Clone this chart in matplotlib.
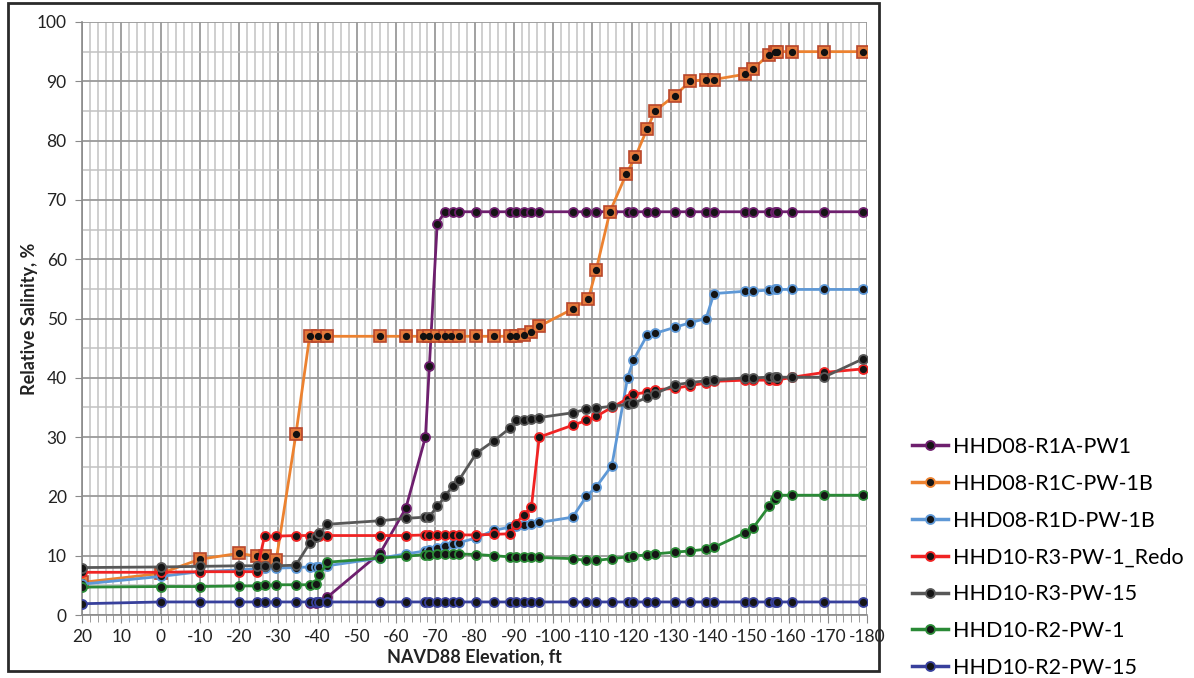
import matplotlib
matplotlib.use("Agg")
import matplotlib.pyplot as plt
from matplotlib.lines import Line2D
from matplotlib.patches import Rectangle
from matplotlib.ticker import MultipleLocator

plt.rcParams["font.family"] = ["Lato", "DejaVu Sans"]
plt.rcParams["axes.unicode_minus"] = False

# ---- data: elevation (ft, NAVD88) and relative salinity (%) per well ----
r1a_x = [-38, -39.5, -40.5, -42.5, -56, -62.5, -67.5, -68.5, -70.5, -72.5, -74.5, -76,
         -80.5, -85, -89, -90.5, -92.5, -94.5, -96.5, -105, -108.5, -111, -115, -119,
         -120.5, -124, -126, -131, -135, -139, -141, -149, -151, -155, -156.5, -157,
         -161, -169, -179]
r1a_y = [2.1, 2.1, 2.2, 3.0, 10.5, 18.0, 30.0, 42.0, 66.0, 68.0, 68.0, 68.0,
         68.0, 68.0, 68.0, 68.0, 68.0, 68.0, 68.0, 68.0, 68.0, 68.0, 68.0, 68.0,
         68.0, 68.0, 68.0, 68.0, 68.0, 68.0, 68.0, 68.0, 68.0, 68.0, 68.0, 68.0,
         68.0, 68.0, 68.0]

r1c_x = [20, 0, -10, -20, -24.5, -26.5, -29.5, -34.5, -38, -40, -42.5, -56,
         -62.5, -67, -68.5, -70.5, -72.5, -74, -76, -80.5, -85, -89, -90.5, -92.5,
         -94.5, -96.5, -105, -109, -111, -114.5, -118.7, -121, -124, -126, -131, -135,
         -139, -141, -149, -151, -155, -156.5, -157, -161, -169, -179]
r1c_y = [5.5, 7.0, 9.4, 10.4, 9.9, 9.9, 9.3, 30.5, 47.0, 47.0, 47.0, 47.0,
         47.0, 47.0, 47.0, 47.0, 47.0, 47.0, 47.0, 47.0, 47.0, 47.0, 47.0, 47.2,
         47.8, 48.7, 51.6, 53.3, 58.2, 68.0, 74.4, 77.3, 82.0, 85.0, 87.6, 90.0,
         90.3, 90.3, 91.2, 92.1, 94.5, 95.0, 95.0, 95.0, 95.0, 95.0]

# sampling elevations shared by the remaining wells
depth_x = [20, 0, -10, -20, -24.5, -26.5, -29.5, -34.5, -38, -39.5, -40.5, -42.5,
           -56, -62.5, -67.5, -68.5, -70.5, -72.5, -74.5, -76, -80.5, -85, -89, -90.5,
           -92.5, -94.5, -96.5, -105, -108.5, -111, -115, -119, -120.5, -124, -126, -131,
           -135, -139, -141, -149, -151, -155, -156.5, -157, -161, -169, -179]

r1d_y = [5.2, 6.5, 7.3, 7.6, 7.8, 7.9, 7.9, 8.0, 8.1, 8.1, 8.1, 8.3,
         9.6, 10.3, 10.8, 11.0, 11.3, 11.6, 11.9, 12.2, 13.0, 14.3, 14.8, 15.0,
         15.2, 15.4, 15.6, 16.5, 20.0, 21.6, 25.2, 40.0, 43.0, 47.2, 47.5, 48.5,
         49.3, 50.0, 54.2, 54.6, 54.6, 54.8, 54.9, 54.9, 54.9, 54.9, 54.9]

r3_pw1_y = [7.2, 7.2, 7.3, 7.3, 7.3, 13.3, 13.3, 13.4, 13.4, 13.4, 13.4, 13.4,
            13.4, 13.4, 13.5, 13.5, 13.5, 13.5, 13.5, 13.5, 13.5, 13.6, 13.7, 15.4,
            16.9, 18.2, 30.0, 32.0, 32.8, 33.5, 35.0, 36.5, 37.2, 37.6, 38.0, 38.2,
            38.7, 39.1, 39.4, 39.6, 39.6, 39.6, 39.6, 39.6, 40.1, 40.9, 41.5]

r3_pw15_y = [8.0, 8.1, 8.2, 8.3, 8.3, 8.3, 8.3, 8.4, 12.1, 13.2, 13.8, 15.3,
             15.9, 16.3, 16.5, 16.6, 18.3, 20.0, 21.8, 22.7, 27.3, 29.4, 31.5, 32.8,
             32.9, 33.1, 33.3, 34.1, 34.7, 34.9, 35.2, 35.5, 35.7, 36.7, 37.3, 38.8,
             39.2, 39.5, 39.6, 40.0, 40.0, 40.1, 40.1, 40.1, 40.1, 40.1, 43.2]

r2_pw1_y = [4.7, 4.8, 4.8, 4.9, 4.9, 5.0, 5.1, 5.1, 5.1, 5.3, 6.7, 8.9,
            9.6, 9.9, 10.2, 10.2, 10.3, 10.3, 10.3, 10.3, 10.2, 10.0, 9.8, 9.7,
            9.7, 9.7, 9.7, 9.5, 9.2, 9.2, 9.5, 9.8, 10.0, 10.1, 10.3, 10.6,
            10.8, 11.1, 11.4, 13.9, 14.7, 18.3, 19.6, 20.2, 20.2, 20.2, 20.2]

r2_pw15_y = [1.9, 2.2, 2.2, 2.2, 2.2, 2.2, 2.2, 2.2, 2.2, 2.2, 2.2, 2.2,
             2.2, 2.2, 2.2, 2.2, 2.2, 2.2, 2.2, 2.2, 2.2, 2.2, 2.2, 2.2,
             2.2, 2.2, 2.2, 2.2, 2.2, 2.2, 2.2, 2.2, 2.2, 2.2, 2.2, 2.2,
             2.2, 2.2, 2.2, 2.2, 2.2, 2.2, 2.2, 2.2, 2.2, 2.2, 2.2]

series_names = ["HHD08-R1A-PW1", "HHD08-R1C-PW-1B", "HHD08-R1D-PW-1B",
                "HHD10-R3-PW-1_Redo", "HHD10-R3-PW-15", "HHD10-R2-PW-1",
                "HHD10-R2-PW-15"]
series_x = [r1a_x, r1c_x, depth_x, depth_x, depth_x, depth_x, depth_x]
series_y = [r1a_y, r1c_y, r1d_y, r3_pw1_y, r3_pw15_y, r2_pw1_y, r2_pw15_y]
series_colors = ["#6e1f6e", "#ec8230", "#5e98d6", "#f02424", "#585858",
                 "#2a8a36", "#38409c"]

x_ticks = [20, 10, 0, -10, -20, -30, -40, -50, -60, -70, -80, -90, -100,
           -110, -120, -130, -140, -150, -160, -170, -180]
y_ticks = [0, 10, 20, 30, 40, 50, 60, 70, 80, 90, 100]

# ---- figure ----
W, H = 1194, 678
fig = plt.figure(figsize=(W / 100, H / 100), dpi=100)
fig.patch.set_facecolor("white")

# chart-area frame
fig.patches.append(Rectangle((8 / W, 1 - 671 / H), 871 / W, 668 / H,
                             transform=fig.transFigure, fill=False,
                             edgecolor="#2a2a2a", linewidth=2.0))

ax = fig.add_axes([82 / W, 1 - 615 / H, (867 - 82) / W, (615 - 22) / H])
ax.set_xlim(20, -180)
ax.set_ylim(0, 100)

ax.xaxis.set_major_locator(MultipleLocator(10))
ax.xaxis.set_minor_locator(MultipleLocator(2))
ax.yaxis.set_major_locator(MultipleLocator(10))
ax.yaxis.set_minor_locator(MultipleLocator(5))
ax.set_xticks(x_ticks)
ax.set_xticklabels([str(t) for t in x_ticks])
ax.set_yticks(y_ticks)
ax.set_yticklabels([str(t) for t in y_ticks])

ax.grid(which="major", color="#9a9a9a", linewidth=1.3)
ax.grid(which="minor", color="#c2c2c2", linewidth=1.1)
ax.set_axisbelow(True)

for side in ("top", "right"):
    ax.spines[side].set_visible(False)
for side in ("left", "bottom"):
    ax.spines[side].set_color("#8a8a8a")
    ax.spines[side].set_linewidth(1.2)

ax.tick_params(axis="both", which="both", direction="out", color="#8a8a8a",
               labelsize=12.5, labelcolor="#222222")
ax.tick_params(axis="x", which="major", length=6, pad=4)
ax.tick_params(axis="x", which="minor", length=5)
ax.tick_params(axis="y", which="major", length=5, pad=6)
ax.tick_params(axis="y", which="minor", length=0)

ax.set_xlabel("NAVD88 Elevation, ft", fontsize=13, fontweight="bold",
              color="#222222")
ax.set_ylabel("Relative Salinity, %", fontsize=13, fontweight="bold",
              color="#222222")
ax.xaxis.set_label_coords(0.5, -(657 - 615) / 593, transform=ax.transAxes)
ax.yaxis.set_label_coords(-(82 - 30) / 785, 0.5, transform=ax.transAxes)
ax.xaxis.label.set_va("center")
ax.yaxis.label.set_va("center")

# ---- series ----
for i, (name, xs, ys, col) in enumerate(zip(series_names, series_x, series_y,
                                             series_colors)):
    z = 3 + i
    if name == "HHD08-R1C-PW-1B":
        ax.plot(xs, ys, color=col, linewidth=2.0, marker="s", markersize=8.5,
                markerfacecolor="#e47a3c", markeredgecolor="#b9472b",
                markeredgewidth=1.2, zorder=z)
        ax.plot(xs, ys, linestyle="none", marker="o", markersize=4.2,
                markerfacecolor="#111111", markeredgecolor="#111111", zorder=z)
    else:
        ax.plot(xs, ys, color=col, linewidth=2.0, marker="o", markersize=6.5,
                markerfacecolor="#151515", markeredgecolor=col,
                markeredgewidth=1.3, zorder=z)

# ---- legend ----
handles = [Line2D([0], [0], color=c, linewidth=2.5, marker="o", markersize=6.5,
                  markerfacecolor="#151515", markeredgecolor=c,
                  markeredgewidth=1.3) for c in series_colors]
fig.legend(handles, series_names, loc="upper left",
           bbox_to_anchor=(912 / W, 1 - 437 / H), frameon=False,
           fontsize=15.5, handlelength=1.65, handletextpad=0.25,
           labelspacing=0.78, borderpad=0, borderaxespad=0)

fig.savefig("out.png", dpi=100)
